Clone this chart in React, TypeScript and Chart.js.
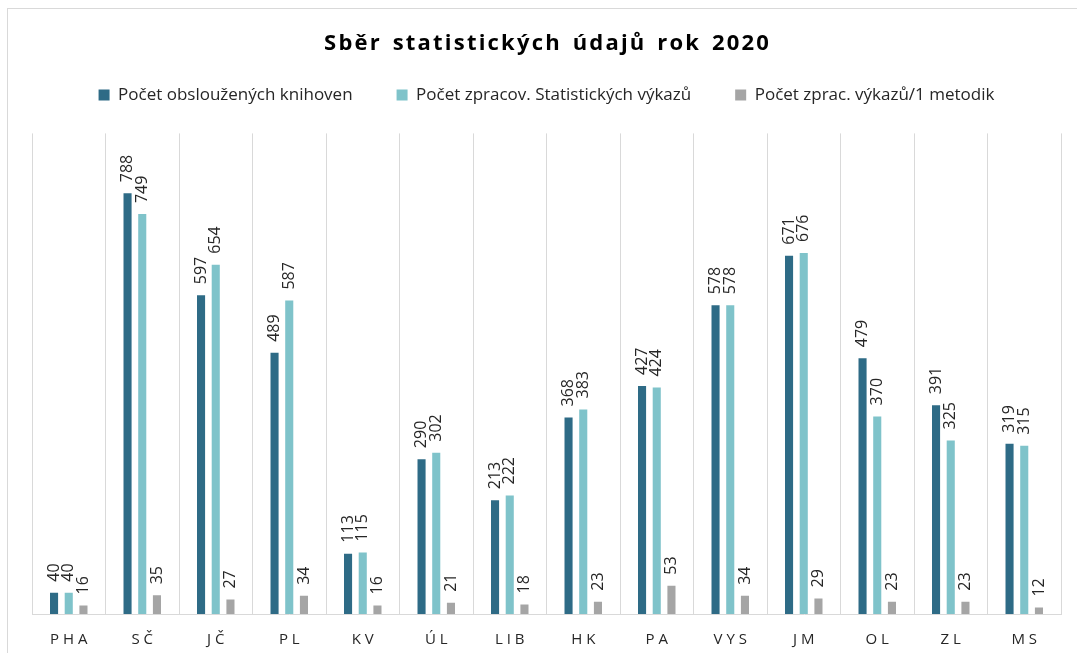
import React, { useEffect, useRef } from 'react';
import { Chart, registerables } from 'chart.js';

Chart.register(...registerables);

const FONT = "'Open Sans', 'Noto Sans', sans-serif";

const titleText = 'Sběr statistických údajů rok 2020';
const categories = ['PHA', 'SČ', 'JČ', 'PL', 'KV', 'ÚL', 'LIB', 'HK', 'PA', 'VYS', 'JM', 'OL', 'ZL', 'MS'];
const seriesNames = [
  'Počet obsloužených knihoven',
  'Počet zpracov. Statistických výkazů',
  'Počet zprac. výkazů/1 metodik',
];
const knihovny = [40, 788, 597, 489, 113, 290, 213, 368, 427, 578, 671, 479, 391, 319];
const vykazy = [40, 749, 654, 587, 115, 302, 222, 383, 424, 578, 676, 370, 325, 315];
const metodik = [16, 35, 27, 34, 16, 21, 18, 23, 53, 34, 29, 23, 23, 12];
const seriesColors = ['#2E6B86', '#7FC3CA', '#A5A5A5'];
const yMax = 900;

const spaced = (s: string, sep: string) => s.split('').join(sep);

const barLabels = {
  id: 'barLabels',
  afterDatasetsDraw(chart: any) {
    const ctx = chart.ctx;
    ctx.save();
    ctx.font = `16px ${FONT}`;
    ctx.fillStyle = '#262626';
    ctx.textAlign = 'left';
    ctx.textBaseline = 'middle';
    chart.data.datasets.forEach((ds: any, i: number) => {
      const meta = chart.getDatasetMeta(i);
      meta.data.forEach((el: any, j: number) => {
        ctx.save();
        ctx.translate(el.x, el.y - 11);
        ctx.rotate(-Math.PI / 2);
        ctx.fillText(String(ds.data[j]), 0, 0);
        ctx.restore();
      });
    });
    ctx.restore();
  },
};

export default function App() {
  const ref = useRef<HTMLCanvasElement>(null);

  useEffect(() => {
    if (!ref.current) return;
    const values = [knihovny, vykazy, metodik];
    const chart = new Chart(ref.current, {
      type: 'bar',
      data: {
        labels: categories,
        datasets: seriesNames.map((name, i) => ({
          label: name,
          data: values[i],
          backgroundColor: seriesColors[i],
          borderWidth: 0,
          categoryPercentage: 0.6,
          barPercentage: 0.55,
        })),
      },
      options: {
        animation: false,
        responsive: false,
        maintainAspectRatio: false,
        layout: { padding: { left: 24, right: 32, top: 0, bottom: 0 } },
        plugins: {
          title: {
            display: true,
            text: titleText.split(' ').map((w) => spaced(w, '\u200A')).join('\u2009 \u2009'),
            color: '#000000',
            font: { family: FONT, size: 22, weight: 'bold', lineHeight: 1.2 },
            padding: { top: 22, bottom: 19 },
            weight: 2000,
          },
          legend: {
            display: true,
            position: 'top',
            weight: 1000,
            labels: {
              boxWidth: 11,
              boxHeight: 11,
              padding: 10,
              color: '#262626',
              font: { family: FONT, size: 17 },
              generateLabels: (chart: any) =>
                chart.data.datasets.map((ds: any, i: number) => ({
                  text: i < chart.data.datasets.length - 1 ? ds.label + '\u2003\u2003' : ds.label,
                  fillStyle: ds.backgroundColor,
                  strokeStyle: ds.backgroundColor,
                  lineWidth: 0,
                  hidden: false,
                  datasetIndex: i,
                  fontColor: '#262626',
                })),
            },
          },
          subtitle: {
            display: true,
            text: ' ',
            position: 'top',
            weight: 900,
            font: { family: FONT, size: 1, lineHeight: 1 },
            padding: { top: 9, bottom: 10 },
          },
          tooltip: { enabled: false },
        },
        scales: {
          x: {
            type: 'category',
            grid: { display: true, offset: true, color: '#D9D9D9', drawTicks: false, lineWidth: 1 },
            border: { display: true, color: '#D9D9D9' },
            ticks: {
              color: '#262626',
              font: { family: FONT, size: 15 },
              padding: 17,
              maxRotation: 0,
              autoSkip: false,
              callback: (_v: any, i: number) => spaced(categories[i], ' '),
            },
            afterFit: (scale: any) => {
              scale.height = 55;
            },
          },
          y: {
            display: false,
            min: 0,
            max: yMax,
          },
        },
      },
      plugins: [barLabels],
    });
    return () => chart.destroy();
  }, []);

  return (
    <div style={{ position: 'fixed', left: 0, top: 0, width: 1077, height: 653, overflow: 'hidden', background: '#fff' }}>
      <div
        style={{
          position: 'absolute',
          left: 7,
          top: 8,
          width: 1085,
          height: 660,
          border: '1px solid #D9D9D9',
          background: '#fff',
        }}
      >
        <canvas ref={ref} width={1085} height={660} style={{ display: 'block', width: 1085, height: 660 }} />
      </div>
    </div>
  );
}
